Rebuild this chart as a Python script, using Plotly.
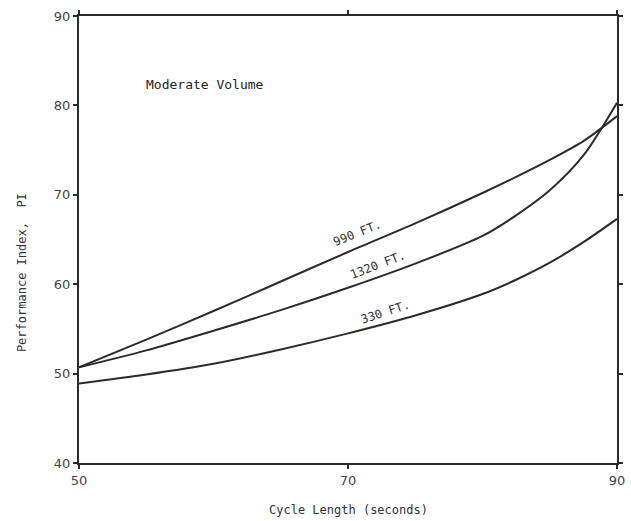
import plotly.graph_objects as go

cycle_990 = [50, 55, 60, 65, 70, 75, 80, 82.5, 85, 87.5, 90]
pi_990 = [50.7, 53.8, 57.0, 60.3, 63.6, 66.8, 70.2, 72.0, 73.9, 76.0, 78.8]
cycle_1320 = [50, 55, 60, 65, 70, 75, 80, 82.5, 85, 87.5, 90]
pi_1320 = [50.7, 52.6, 54.8, 57.1, 59.6, 62.3, 65.4, 67.7, 70.5, 74.4, 80.3]
cycle_330 = [50, 55, 60, 65, 70, 75, 80, 82.5, 85, 87.5, 90]
pi_330 = [48.9, 49.9, 51.1, 52.7, 54.5, 56.5, 58.9, 60.5, 62.4, 64.7, 67.3]

labels = ["990 FT.", "1320 FT.", "330 FT."]
label_x = [70.7, 72.2, 72.8]
label_y = [65.7, 62.1, 56.9]
label_angle = [-22, -21, -18]

x_ticks = [50, 70, 90]
y_ticks = [40, 50, 60, 70, 80, 90]

line_color = "#2b2b2b"
mono = "DejaVu Sans Mono"

fig = go.Figure()
for xs, ys in [(cycle_990, pi_990), (cycle_1320, pi_1320), (cycle_330, pi_330)]:
    fig.add_trace(go.Scatter(x=xs, y=ys, mode="lines",
                             line=dict(color=line_color, width=2, shape="spline", smoothing=0.8),
                             showlegend=False, hoverinfo="skip"))

for t, x, y, a in zip(labels, label_x, label_y, label_angle):
    fig.add_annotation(x=x, y=y, text=t, showarrow=False, textangle=a,
                       font=dict(family=mono, size=12, color="#333"))

fig.add_annotation(x=59.4, y=82.3, text="Moderate Volume", showarrow=False,
                   font=dict(family=mono, size=13, color="#222"))

fig.add_annotation(xref="paper", yref="paper", x=0.5, y=-0.105, text="Cycle Length (seconds)",
                   showarrow=False, yanchor="middle", font=dict(family=mono, size=12, color="#333"))
fig.add_annotation(xref="paper", yref="paper", x=-0.106, y=0.427, text="Performance Index,  PI",
                   showarrow=False, textangle=-90, xanchor="center", yanchor="middle",
                   font=dict(family=mono, size=12, color="#333"))

axis_common = dict(showline=True, mirror="ticks", linecolor=line_color, linewidth=2,
                   ticks="outside", ticklen=4, tickcolor=line_color, tickwidth=2,
                   showgrid=False, zeroline=False, automargin=False,
                   tickfont=dict(family="DejaVu Sans", size=13, color="#444"))

fig.update_xaxes(range=[50, 90], tickvals=x_ticks, ticktext=[str(v) for v in x_ticks], **axis_common)
fig.update_yaxes(range=[40, 90], tickvals=y_ticks, ticktext=[str(v) for v in y_ticks], **axis_common)

fig.update_layout(width=631, height=521, plot_bgcolor="white", paper_bgcolor="white",
                  margin=dict(l=79, r=14, t=16, b=58))

fig.write_html("out.html")
